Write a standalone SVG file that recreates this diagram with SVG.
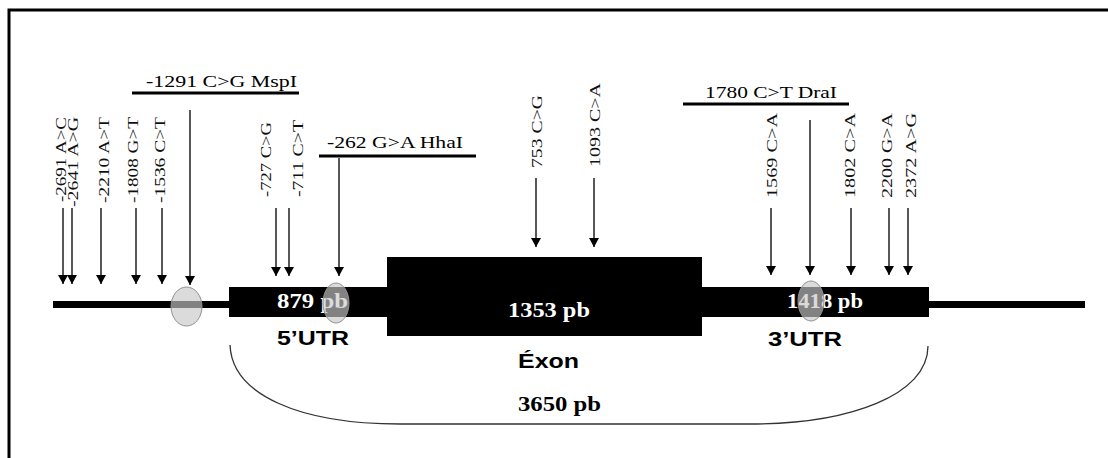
<svg xmlns="http://www.w3.org/2000/svg" width="1108" height="458" viewBox="0 0 1108 458">
<defs>
<style>
.snp{font-family:"Liberation Serif","Times New Roman",serif;font-size:15.5px;fill:#111}
.site{font-family:"Liberation Serif","Times New Roman",serif;font-size:16px;fill:#000}
.len{font-family:"Liberation Serif","Times New Roman",serif;font-size:21px;font-weight:bold}
.reg{font-family:"Liberation Sans",Arial,sans-serif;font-size:21px;font-weight:bold;fill:#000}
.arr{stroke:#111;stroke-width:1.4;fill:none;marker-end:url(#head)}
.bar{stroke:#000;stroke-width:3}
.ell{fill:#c8c8c8;fill-opacity:0.65;stroke:#909090;stroke-width:1}
</style>
<marker id="head" viewBox="0 0 9 10" refX="9" refY="5" markerWidth="9" markerHeight="10" markerUnits="userSpaceOnUse" orient="auto">
<path d="M0,0 L9,5 L0,10 Z" fill="#000"/>
</marker>
</defs>
<rect x="0" y="0" width="1108" height="458" fill="#fff"/>
<path d="M9,458 V10 H1108" fill="none" stroke="#000" stroke-width="3"/>

<g id="gene-line"><rect x="53" y="301" width="1032" height="7" fill="#000"/></g>

<g id="utr5">
<rect x="229" y="287" width="158" height="30" fill="#000"/>
<text class="len" x="277" y="308" fill="#fff" textLength="71" lengthAdjust="spacingAndGlyphs">879 pb</text>
<text class="reg" x="277" y="345" textLength="72" lengthAdjust="spacingAndGlyphs">5’UTR</text>
</g>
<g id="exon">
<rect x="387" y="257" width="315" height="79" fill="#000"/>
<text class="len" x="508" y="317" fill="#fff" textLength="82" lengthAdjust="spacingAndGlyphs">1353 pb</text>
<text class="reg" x="518" y="368" font-size="22" textLength="61" lengthAdjust="spacingAndGlyphs">Éxon</text>
</g>
<g id="utr3">
<rect x="702" y="287" width="227" height="30" fill="#000"/>
<text class="len" x="787" y="308" fill="#fff" textLength="76" lengthAdjust="spacingAndGlyphs">1418 pb</text>
<text class="reg" x="768" y="346" textLength="74" lengthAdjust="spacingAndGlyphs">3’UTR</text>
</g>
<g id="total">
<text class="len" x="518" y="411" fill="#000" font-size="22" textLength="83" lengthAdjust="spacingAndGlyphs">3650 pb</text>
</g>

<g id="site-mspi">
<text class="site" x="146" y="87" textLength="151" lengthAdjust="spacingAndGlyphs">-1291 C&gt;G MspI</text>
<line class="bar" x1="132" y1="93" x2="299" y2="93"/>
<ellipse class="ell" cx="186.5" cy="306.5" rx="15.5" ry="19.5"/>
</g>
<g id="site-hhai">
<text class="site" x="327" y="148" textLength="136" lengthAdjust="spacingAndGlyphs">-262 G&gt;A HhaI</text>
<line class="bar" x1="319" y1="156" x2="476" y2="156"/>
<ellipse class="ell" cx="336" cy="303" rx="13" ry="20"/>
</g>
<g id="site-drai">
<text class="site" x="705" y="98" textLength="132" lengthAdjust="spacingAndGlyphs">1780 C&gt;T DraI</text>
<line class="bar" x1="683" y1="104" x2="849" y2="104"/>
<ellipse class="ell" cx="811" cy="301" rx="13" ry="20"/>
</g>

<g id="snp-labels">
<text class="snp" transform="translate(65.5,202) rotate(-90)" textLength="85" lengthAdjust="spacingAndGlyphs">-2691 A&gt;C</text>
<text class="snp" transform="translate(77.5,207) rotate(-90)" textLength="90" lengthAdjust="spacingAndGlyphs">-2641 A&gt;G</text>
<text class="snp" transform="translate(109,203) rotate(-90)" textLength="86" lengthAdjust="spacingAndGlyphs">-2210 A&gt;T</text>
<text class="snp" transform="translate(138,203) rotate(-90)" textLength="86" lengthAdjust="spacingAndGlyphs">-1808 G&gt;T</text>
<text class="snp" transform="translate(165,203) rotate(-90)" textLength="86" lengthAdjust="spacingAndGlyphs">-1536 C&gt;T</text>
<text class="snp" transform="translate(271,197) rotate(-90)" textLength="75" lengthAdjust="spacingAndGlyphs">-727 C&gt;G</text>
<text class="snp" transform="translate(303,197) rotate(-90)" textLength="77" lengthAdjust="spacingAndGlyphs">-711 C&gt;T</text>
<text class="snp" transform="translate(542,168) rotate(-90)" textLength="73" lengthAdjust="spacingAndGlyphs">753 C&gt;G</text>
<text class="snp" transform="translate(600,167) rotate(-90)" textLength="84" lengthAdjust="spacingAndGlyphs">1093 C&gt;A</text>
<text class="snp" transform="translate(777,198) rotate(-90)" textLength="85" lengthAdjust="spacingAndGlyphs">1569 C&gt;A</text>
<text class="snp" transform="translate(855,198) rotate(-90)" textLength="85" lengthAdjust="spacingAndGlyphs">1802 C&gt;A</text>
<text class="snp" transform="translate(892,198) rotate(-90)" textLength="85" lengthAdjust="spacingAndGlyphs">2200 G&gt;A</text>
<text class="snp" transform="translate(916,198) rotate(-90)" textLength="85" lengthAdjust="spacingAndGlyphs">2372 A&gt;G</text>
</g>

<g id="connectors">
<line class="arr" x1="63" y1="208" x2="63" y2="284"/>
<line class="arr" x1="72" y1="208" x2="72" y2="284"/>
<line class="arr" x1="101" y1="208" x2="101" y2="284"/>
<line class="arr" x1="136" y1="208" x2="136" y2="284"/>
<line class="arr" x1="162" y1="208" x2="162" y2="284"/>
<line class="arr" x1="190" y1="110" x2="190" y2="285"/>
<line class="arr" x1="276" y1="208" x2="276" y2="276"/>
<line class="arr" x1="289" y1="208" x2="289" y2="276"/>
<line class="arr" x1="339" y1="158" x2="339" y2="276"/>
<line class="arr" x1="536" y1="178" x2="536" y2="247"/>
<line class="arr" x1="594" y1="178" x2="594" y2="247"/>
<line class="arr" x1="771" y1="208" x2="771" y2="275"/>
<line class="arr" x1="810" y1="120" x2="810" y2="275"/>
<line class="arr" x1="851" y1="208" x2="851" y2="275"/>
<line class="arr" x1="889" y1="208" x2="889" y2="275"/>
<line class="arr" x1="908" y1="208" x2="908" y2="275"/>
<path d="M230,345 C232,395 300,424 400,424 L750,424 C850,424 928,395 928,346" fill="none" stroke="#333" stroke-width="1.3"/>
</g>
</svg>
